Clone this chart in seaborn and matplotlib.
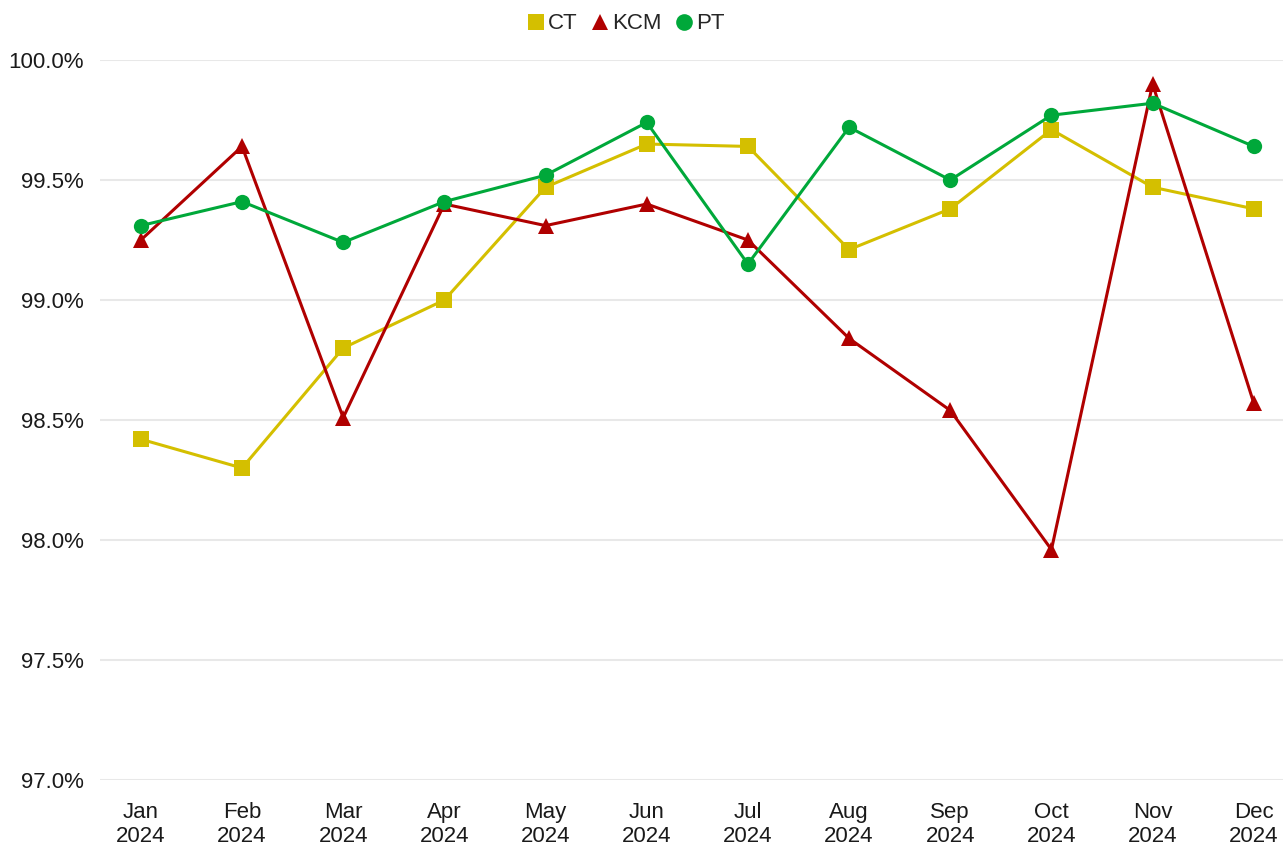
import pandas as pd
import numpy as np
import matplotlib
matplotlib.use("Agg")
import matplotlib.pyplot as plt
import seaborn as sns
from matplotlib.ticker import FuncFormatter

# chart data (values in %)
months = ["Jan\n2024", "Feb\n2024", "Mar\n2024", "Apr\n2024", "May\n2024", "Jun\n2024",
          "Jul\n2024", "Aug\n2024", "Sep\n2024", "Oct\n2024", "Nov\n2024", "Dec\n2024"]
ct = [98.42, 98.30, 98.80, 99.00, 99.47, 99.65, 99.64, 99.21, 99.38, 99.71, 99.47, 99.38]
kcm = [99.25, 99.64, 98.51, 99.40, 99.31, 99.40, 99.25, 98.84, 98.54, 97.96, 99.90, 98.57]
pt = [99.31, 99.41, 99.24, 99.41, 99.52, 99.74, 99.15, 99.72, 99.50, 99.77, 99.82, 99.64]
series_names = ["CT", "KCM", "PT"]

df = pd.DataFrame({
    "month": months * 3,
    "idx": list(range(len(months))) * 3,
    "series": np.repeat(series_names, len(months)),
    "value": ct + kcm + pt,
})

sns.set_theme(style="white")
plt.rcParams["font.family"] = ["Liberation Sans", "DejaVu Sans"]

palette = {"CT": "#D4BF00", "KCM": "#B00000", "PT": "#00A83A"}
markers = {"CT": "s", "KCM": "^", "PT": "o"}

fig = plt.figure(figsize=(12.87, 8.55), dpi=100)
ax = fig.add_axes([0.078, 0.0877, 0.919, 0.8421])

sns.lineplot(data=df, x="idx", y="value", hue="series", style="series",
             palette=palette, markers=markers, dashes=False, markersize=11,
             markeredgewidth=0, linewidth=2.2, ax=ax, clip_on=False)

ax.set_xlim(-0.4, 11.29)
ax.set_ylim(97.0, 100.0)
ax.set_yticks(np.arange(97.0, 100.01, 0.5))
ax.yaxis.set_major_formatter(FuncFormatter(lambda v, p: f"{v:.1f}%"))
ax.set_xticks(range(len(months)))
ax.set_xticklabels(months, linespacing=1.2)
ax.tick_params(axis="both", labelsize=16, length=0, colors="#1a1a1a")
ax.tick_params(axis="x", pad=16)
ax.tick_params(axis="y", pad=12)
ax.grid(axis="y", color="#E8E8E8", linewidth=1.5)
for s in ax.spines.values():
    s.set_visible(False)
ax.set_xlabel("")
ax.set_ylabel("")

leg = ax.legend(loc="lower center", bbox_to_anchor=(0.444, 1.0), ncol=3, frameon=False,
                fontsize=16, handlelength=0.8, handletextpad=0.15, columnspacing=0.6,
                borderaxespad=0.75)
for h in leg.legend_handles:
    h.set_linestyle("")
    h.set_markersize(12)

fig.savefig("out.png", dpi=100)
